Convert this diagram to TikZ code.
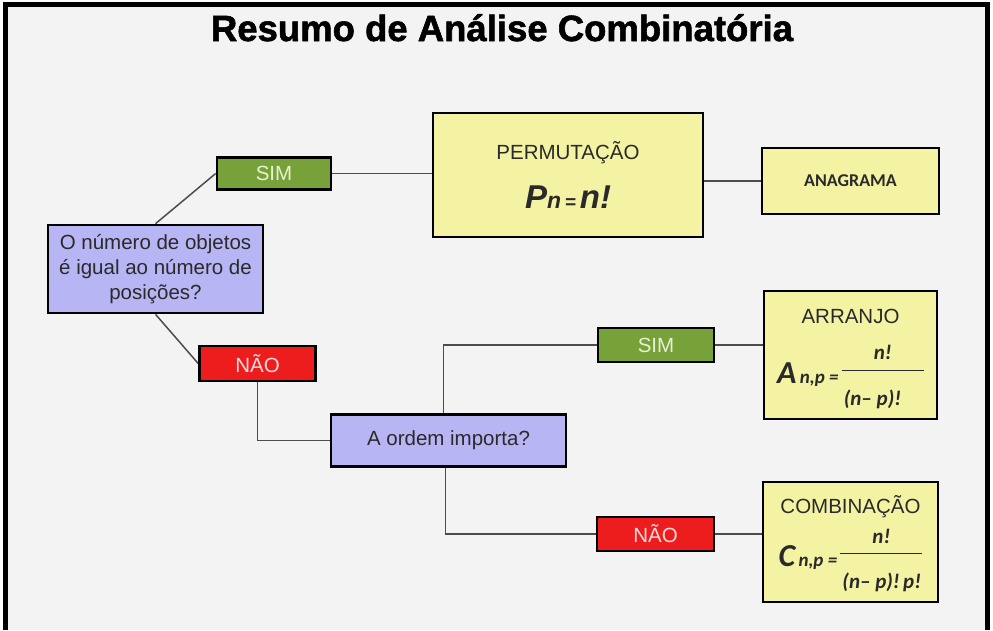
\documentclass[tikz,border=0pt]{standalone}
\usepackage{fontspec}
\setmainfont{Liberation Sans}
\newfontfamily\calib{Carlito}
\newfontfamily\heavy{Liberation Sans}[BoldFeatures={FakeBold=1.6}]
\usepackage{xcolor}
\usetikzlibrary{calc, backgrounds}
\definecolor{paper}{HTML}{F4F3F3}
\definecolor{simgreen}{HTML}{77A23A}
\definecolor{simtext}{HTML}{E8F0D2}
\definecolor{naored}{HTML}{EE1D1D}
\definecolor{naotext}{HTML}{FADCDC}
\definecolor{asklilac}{HTML}{B8B5F4}
\definecolor{resyellow}{HTML}{F4F3A4}
\definecolor{inktext}{HTML}{2A2A2A}
\definecolor{linegray}{HTML}{4C4C4C}
\newcommand{\fsz}[1]{\fontsize{#1}{#1}\selectfont}
\newcommand{\fracbox}[3]{%
  \begin{tabular}[c]{@{}l@{}}
    \makebox[#1]{#2}\\[4pt]\hline
    \rule{0pt}{35pt}\hspace{2pt}#3
  \end{tabular}}
\tikzset{
  base/.style={
    rectangle, draw=black, line width=2.6pt,
    align=center, inner sep=0pt, text=inktext,
    font=\fsz{20.5}
  },
  simbox/.style={base, fill=simgreen, text=simtext,
    minimum width=114pt, minimum height=32pt},
  naobox/.style={base, fill=naored, text=naotext,
    minimum width=116pt, minimum height=35pt},
  askbox/.style={base, fill=asklilac},
  resbox/.style={base, fill=resyellow},
  link/.style={draw=linegray, line width=1.5pt}
}

\begin{document}
\begin{tikzpicture}[x=1pt, y=-1pt]

% ── Canvas & frame ──────────────────────────────────────────
\useasboundingbox (0,0) rectangle (993,630);
\begin{scope}[on background layer]
  \fill[white] (0,0) rectangle (993,630);
  \fill[paper] (5,4.5) rectangle (987,630);
\end{scope}
\draw[line width=5pt] (5,630) |- (987,4.5) -- (987,630);

% ── Title ───────────────────────────────────────────────────
\node[anchor=base, font=\fsz{36.5}\heavy\bfseries] (title) at (502,41)
  {Resumo de Análise Combinatória};

% ── First question ──────────────────────────────────────────
\node[askbox, minimum width=215pt, minimum height=88pt,
      font=\fontsize{20.5}{25}\selectfont] (q1) at (155.5,269)
  {O número de objetos\\
   é igual ao número de\\ posições?};

\node[simbox] (sim1) at (274,173.5) {SIM};
\node[naobox] (nao1) at (257.5,363.5) {NÃO};

% ── Permutation branch ──────────────────────────────────────
\node[resbox, minimum width=270pt, minimum height=124pt] (perm) at (568,175)
  {PERMUTAÇÃO\\[20pt]
   {\bfseries\itshape\fsz{33}P{\fsz{23}n\,{\fsz{19}=}\,}n!}};

\node[resbox, minimum width=177pt, minimum height=66pt,
      font=\calib\bfseries\fsz{18}] (anag) at (850.5,181) {ANAGRAMA};

% ── Second question ─────────────────────────────────────────
\node[askbox, minimum width=235pt, minimum height=52pt] (q2) at (448.5,440.5)
  {A ordem importa?};

\node[simbox, minimum width=116pt, minimum height=34pt] (sim2) at (656,345) {SIM};
\node[naobox, minimum width=117pt, minimum height=34pt] (nao2) at (655.5,534) {NÃO};

% ── Arrangement / combination ───────────────────────────────
\node[resbox, minimum width=173pt, minimum height=128pt] (arr) at (850.5,355)
  {\rule{0pt}{25pt}ARRANJO\\[20pt]
   {\calib\bfseries\itshape
    {\fsz{32}A}\,{\fsz{19}n,p =\,}%
    {\fsz{21}\fracbox{82pt}{n!}{(n– p)!}}}};

\node[resbox, minimum width=175pt, minimum height=120pt] (comb) at (850.5,542)
  {\rule{0pt}{25pt}COMBINAÇÃO\\[9pt]
   {\calib\bfseries\itshape
    {\fsz{32}C}\,{\fsz{19}n,p =\,}%
    {\fsz{21}\fracbox{82pt}{n!}{(n– p)!\,p!}}}};

% ── Connectors ──────────────────────────────────────────────
\begin{scope}[on background layer]
  \draw[link] (q1.north) -- (sim1.west);
  \draw[link] (q1.south) -- (nao1.west);
  \draw[link] (sim1.east) -- (sim1.east -| perm.west);
  \draw[link] (perm.east |- anag.west) -- (anag.west);
  \draw[link] (nao1.south) |- (q2.west);
  \draw[link] ([xshift=-5pt]q2.north) |- (sim2.west);
  \draw[link] ([xshift=-3pt]q2.south) |- (nao2.west);
  \draw[link] (sim2.east) -- (sim2.east -| arr.west);
  \draw[link] (nao2.east) -- (nao2.east -| comb.west);
\end{scope}

\end{tikzpicture}
\end{document}
